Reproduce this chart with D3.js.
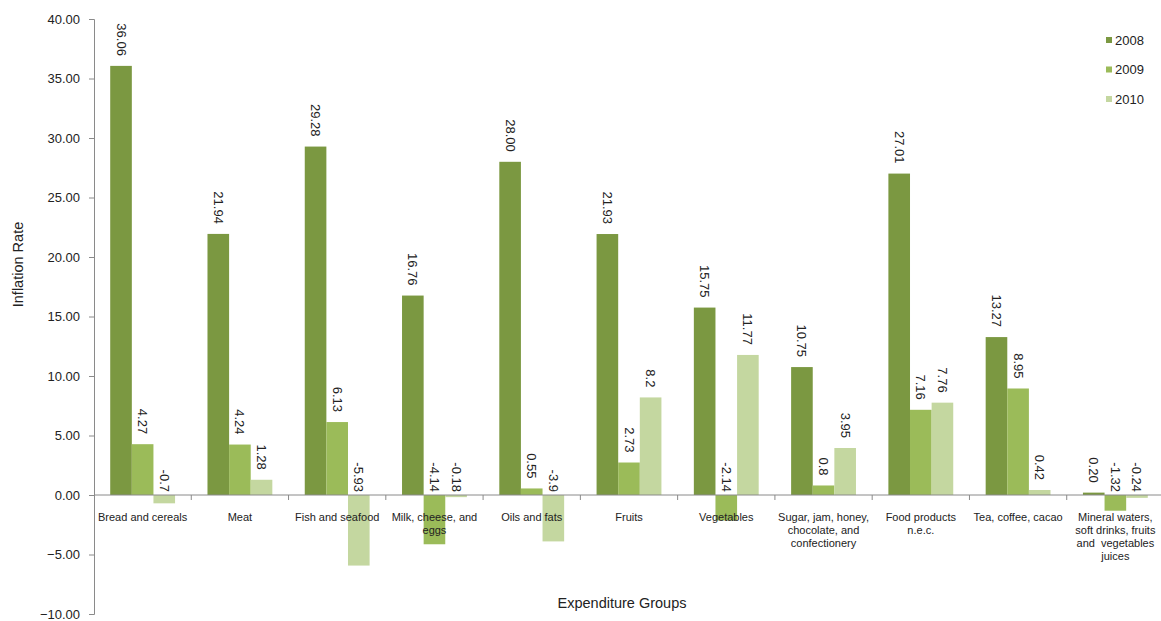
<!DOCTYPE html>
<html>
<head>
<meta charset="utf-8">
<script src="https://cdn.jsdelivr.net/npm/d3@7"></script>
<style>
  html, body { margin: 0; padding: 0; background: #fff; }
  svg { display: block; font-family: "Liberation Sans", Arial, sans-serif; }
  .cat-label { white-space: pre; }
</style>
</head>
<body>
<svg id="chart" width="1161" height="621"></svg>
<script>
// Food inflation by expenditure group, 2008-2010
const categories = [
  "Bread and cereals",
  "Meat",
  "Fish and seafood",
  "Milk, cheese, and\neggs",
  "Oils and fats",
  "Fruits",
  "Vegetables",
  "Sugar, jam, honey,\nchocolate, and\nconfectionery",
  "Food products\nn.e.c.",
  "Tea, coffee, cacao",
  "Mineral waters,\nsoft drinks, fruits\nand  vegetables\njuices"
];
const years = ["2008", "2009", "2010"];
const values2008 = [36.06, 21.94, 29.28, 16.76, 28.00, 21.93, 15.75, 10.75, 27.01, 13.27, 0.20];
const values2009 = [4.27, 4.24, 6.13, -4.14, 0.55, 2.73, -2.14, 0.8, 7.16, 8.95, -1.32];
const values2010 = [-0.7, 1.28, -5.93, -0.18, -3.9, 8.2, 11.77, 3.95, 7.76, 0.42, -0.24];
const yTicks = [-10, -5, 0, 5, 10, 15, 20, 25, 30, 35, 40];

const seriesValues = [values2008, values2009, values2010];
const seriesColors = ["#7b9841", "#9bbb59", "#c4d7a0"];
const labelFormats = [d3.format(".2f"), v => String(v), v => String(v)];

const svg = d3.select("#chart");
const plotLeft = 94, plotRight = 1164, plotTop = 19, plotBottom = 614;

const y = d3.scaleLinear().domain([-10, 40]).range([plotBottom, plotTop]);
const x0 = d3.scaleBand().domain(categories).range([plotLeft, plotRight]);
const groupPad = x0.bandwidth() * 0.75 / 4.5;
const x1 = d3.scaleBand().domain(years)
  .range([groupPad, x0.bandwidth() - groupPad]);

const axisColor = "#8a8a8a";
const textColor = "#222";

// Y axis
const yAxis = svg.append("g")
  .attr("transform", `translate(${plotLeft},0)`)
  .call(d3.axisLeft(y).tickValues(yTicks).tickFormat(d3.format(".2f"))
    .tickSizeOuter(0).tickSize(5).tickPadding(9));
yAxis.select(".domain").attr("stroke", axisColor);
yAxis.selectAll(".tick line").attr("stroke", axisColor);
yAxis.selectAll(".tick text").attr("fill", textColor)
  .style("font-size", "13px");

// Bars
const rows = categories.map((c, i) => ({ c, i }));
years.forEach((yr, s) => {
  svg.append("g").selectAll("rect")
    .data(rows)
    .join("rect")
    .attr("x", d => x0(d.c) + x1(yr))
    .attr("width", x1.bandwidth())
    .attr("y", d => y(Math.max(0, seriesValues[s][d.i])))
    .attr("height", d => Math.abs(y(seriesValues[s][d.i]) - y(0)))
    .attr("fill", seriesColors[s]);
});

// Category axis along zero
const xAxisG = svg.append("g").attr("transform", `translate(0,${y(0)})`);
xAxisG.append("line")
  .attr("x1", plotLeft).attr("x2", plotRight)
  .attr("y1", 0).attr("y2", 0)
  .attr("stroke", axisColor);
xAxisG.selectAll("line.tick")
  .data(categories.slice(1))
  .join("line")
  .attr("class", "tick")
  .attr("x1", d => x0(d)).attr("x2", d => x0(d))
  .attr("y1", 0).attr("y2", 5)
  .attr("stroke", axisColor);

const catLabels = svg.append("g");
categories.forEach(c => {
  const t = catLabels.append("text")
    .attr("class", "cat-label")
    .attr("x", x0(c) + x0.bandwidth() / 2)
    .attr("y", y(0) + 26)
    .attr("text-anchor", "middle")
    .attr("fill", textColor)
    .style("font-size", "11px");
  c.split("\n").forEach((line, k) => {
    t.append("tspan")
      .attr("x", x0(c) + x0.bandwidth() / 2)
      .attr("dy", k === 0 ? 0 : 13)
      .text(line);
  });
});

// Value labels, rotated, reading downward
years.forEach((yr, s) => {
  svg.append("g").selectAll("text")
    .data(rows)
    .join("text")
    .attr("transform", d => {
      const v = seriesValues[s][d.i];
      const cx = x0(d.c) + x1(yr) + x1.bandwidth() / 2;
      const cy = v >= 0 ? y(v) - 10 : y(0) - 3;
      return `translate(${cx},${cy}) rotate(90)`;
    })
    .attr("text-anchor", "end")
    .attr("dominant-baseline", "central")
    .attr("fill", textColor)
    .style("font-size", "13px")
    .text(d => labelFormats[s](seriesValues[s][d.i]));
});

// Axis titles
svg.append("text")
  .attr("transform", `translate(18,${(plotTop + plotBottom) / 2 - 52}) rotate(-90)`)
  .attr("text-anchor", "middle")
  .attr("dominant-baseline", "central")
  .attr("fill", textColor)
  .style("font-size", "14.5px")
  .text("Inflation Rate");

svg.append("text")
  .attr("x", 622).attr("y", 603)
  .attr("text-anchor", "middle")
  .attr("dominant-baseline", "central")
  .attr("fill", textColor)
  .style("font-size", "14.5px")
  .text("Expenditure Groups");

// Legend
const legend = svg.append("g");
years.forEach((yr, s) => {
  const cy = 40 + s * 29.5;
  legend.append("rect")
    .attr("x", 1106).attr("y", cy - 3)
    .attr("width", 6).attr("height", 6)
    .attr("fill", seriesColors[s]);
  legend.append("text")
    .attr("x", 1115).attr("y", cy)
    .attr("dominant-baseline", "central")
    .attr("fill", textColor)
    .style("font-size", "13px")
    .text(yr);
});
</script>
</body>
</html>
